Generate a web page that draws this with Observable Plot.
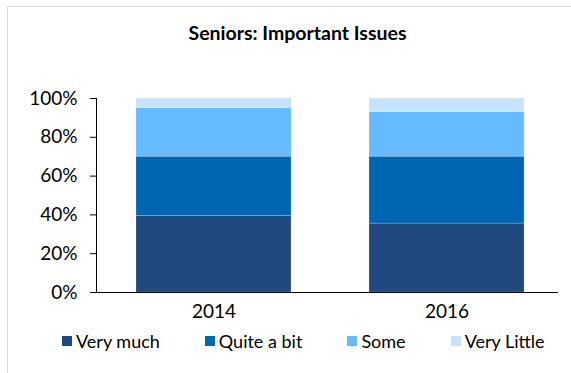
<!DOCTYPE html>
<html>
<head>
<meta charset="utf-8">
<script src="https://cdn.jsdelivr.net/npm/d3@7"></script>
<script src="https://cdn.jsdelivr.net/npm/@observablehq/plot@0.6"></script>
<style>
  html, body { margin: 0; padding: 0; background: #fff; }
  #wrap { position: relative; width: 571px; height: 373px; overflow: hidden; font-family: Lato, "Open Sans", sans-serif; }
  #border { position: absolute; left: 7px; top: 6px; width: 600px; height: 400px; border-left: 1px solid #d9d9d9; border-top: 1px solid #d9d9d9; }
  #title { position: absolute; left: 0; width: 595px; top: 21px; text-align: center; font-weight: bold; font-size: 19.5px; color: #000; }
  #chart { position: absolute; left: 0; top: 0; }
  #legend { position: absolute; left: 62px; top: 330px; display: flex; gap: 45px; font-size: 18px; color: #000; white-space: nowrap; }
  #legend .item { display: flex; align-items: center; }
  #legend .sw { width: 10px; height: 10px; margin-right: 4px; display: inline-block; }
</style>
</head>
<body>
<div id="wrap">
  <div id="border"></div>
  <div id="title">Seniors: Important Issues</div>
  <div id="chart"></div>
  <div id="legend"></div>
</div>
<script>
const years = ["2014", "2016"];
const categories = ["Very much", "Quite a bit", "Some", "Very Little"];
const colors = ["#1f497d", "#0066b3", "#66bbff", "#c5e3ff"];
const veryMuch = [39.5, 35.5];
const quiteABit = [30.5, 34.5];
const some = [25, 23];
const veryLittle = [5, 7];
const yTicks = [0, 20, 40, 60, 80, 100];

const series = [veryMuch, quiteABit, some, veryLittle];
const data = [];
years.forEach((yr, i) => {
  categories.forEach((c, j) => data.push({year: yr, category: c, value: series[j][i]}));
});

const plot = Plot.plot({
  width: 571,
  height: 373,
  marginTop: 98,
  marginBottom: 81,
  marginLeft: 96,
  marginRight: 13,
  style: {fontFamily: "Lato, 'Open Sans', sans-serif", fontSize: "19px", color: "#000", background: "transparent"},
  x: {domain: years, paddingInner: 0.333, paddingOuter: 0.156, align: 0.55, label: null},
  y: {domain: [0, 100], label: null},
  color: {domain: categories, range: colors},
  marks: [
    Plot.barY(data, {x: "year", y: "value", fill: "category", order: categories, stroke: "#ffffff", strokeOpacity: 0.25, strokeWidth: 0.7}),
    Plot.axisY({ticks: yTicks, tickFormat: d => d + "%", tickSize: 6, tickPadding: 13, label: null, fontSize: 19}),
    Plot.axisX({tickSize: 0, tickPadding: 12, label: null, fontSize: 19}),
    Plot.frame({anchor: "left", stroke: "#000"}),
    Plot.ruleY([0], {stroke: "#000"})
  ]
});
document.getElementById("chart").appendChild(plot);

const legend = d3.select("#legend");
categories.forEach((c, i) => {
  const it = legend.append("span").attr("class", "item");
  it.append("span").attr("class", "sw").style("background", colors[i]);
  it.append("span").text(c);
});
</script>
</body>
</html>
